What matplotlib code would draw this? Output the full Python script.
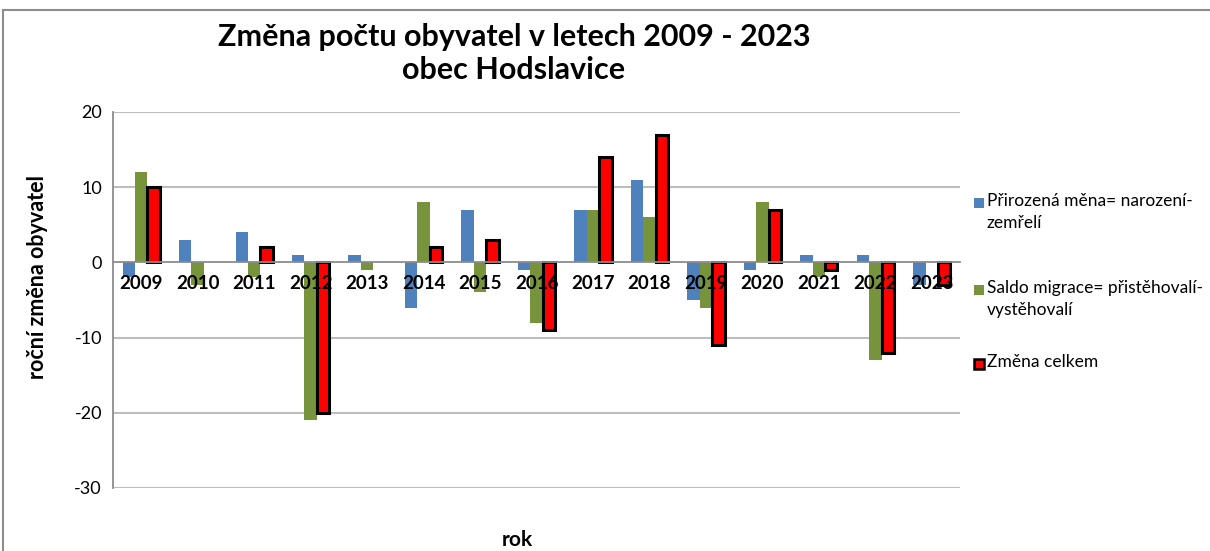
"""
plot.py
---------
population change chart, obec Hodslavice 2009 - 2023
---------
"""

import matplotlib
matplotlib.use('Agg')
import matplotlib.pyplot as plt
from matplotlib.patches import Rectangle
import numpy as np

plt.rcParams['font.family'] = ['Lato', 'DejaVu Sans']

# data
years = ['2009', '2010', '2011', '2012', '2013', '2014', '2015', '2016',
         '2017', '2018', '2019', '2020', '2021', '2022', '2023']
prirozena = [-2, 3, 4, 1, 1, -6, 7, -1, 7, 11, -5, -1, 1, 1, -3]
migrace = [12, -3, -2, -21, -1, 8, -4, -8, 7, 6, -6, 8, -2, -13, 0]
celkem = [10, 0, 2, -20, 0, 2, 3, -9, 14, 17, -11, 7, -1, -12, -3]

labels = ['Přirozená měna= narození-\nzemřelí',
          'Saldo migrace= přistěhovalí-\nvystěhovalí',
          'Změna celkem']
yticks = [20, 10, 0, -10, -20, -30]

blue = '#4F81BD'
green = '#77933C'
red = '#FF0000'
grid_c = '#BDBDBD'

fig = plt.figure(figsize=(12.10, 5.51), dpi=100)
ax = fig.add_axes([113/1210, 1 - 488/551, (960 - 113)/1210, (488 - 112)/551])

# spine position first, it resets the ticks
for s in ['top', 'right']:
    ax.spines[s].set_visible(False)
ax.spines['left'].set_color('#8C8C8C')
ax.spines['left'].set_linewidth(1.3)
ax.spines['bottom'].set_position(('data', 0))
ax.spines['bottom'].set_color('#8C8C8C')
ax.spines['bottom'].set_linewidth(1.3)

x = np.arange(len(years))
w = 0.22
ax.bar(x - 0.22, prirozena, w, color=blue, zorder=1)
ax.bar(x, migrace, w, color=green, zorder=1.1)
ax.bar(x + 0.22, celkem, w, color=red, edgecolor='black',
       linewidth=[2.2 if v != 0 else 0 for v in celkem], zorder=1.2)

# gridlines drawn by hand so the tick labels stay above the bars
for v in yticks:
    if v != 0:
        ax.axhline(v, color=grid_c, linewidth=1.5, zorder=0)

ax.set_xlim(-0.5, len(years) - 0.5)
ax.set_ylim(-30, 20)
ax.set_yticks(yticks)
ax.set_yticklabels([str(v) for v in yticks], fontsize=13)
ax.tick_params(axis='y', length=0, pad=8)

ax.set_xticks(x)
ax.set_xticklabels(years, fontsize=13.5, fontweight='bold')
ax.tick_params(axis='x', length=0, pad=9)

# titles
fig.text(514/1210, 1 - 37/551, 'Změna počtu obyvatel v letech 2009 - 2023',
         ha='center', va='center', fontsize=22, fontweight='bold')
fig.text(514/1210, 1 - 70/551, 'obec Hodslavice',
         ha='center', va='center', fontsize=22, fontweight='bold')
fig.text(38/1210, 1 - 277/551, 'roční změna obyvatel', rotation=90,
         ha='center', va='center', fontsize=15.5, fontweight='bold')
fig.text(517/1210, 1 - 540/551, 'rok', ha='center', va='center',
         fontsize=15, fontweight='bold')

# legend, marker beside the first line of each entry
leg_y = [203, 290, 364]
leg_face = [blue, green, red]
leg_edge = [blue, green, 'black']
for lab, yy, fc, ec in zip(labels, leg_y, leg_face, leg_edge):
    fig.add_artist(Rectangle((974/1210, 1 - (yy + 5)/551), 10/1210, 10/551,
                             transform=fig.transFigure, facecolor=fc,
                             edgecolor=ec, linewidth=1.8 if ec == 'black' else 0))
    fig.text(987/1210, 1 - (yy - 10)/551, lab, ha='left', va='top',
             fontsize=12.5, linespacing=1.45)

# chart border
fig.add_artist(Rectangle((3/1210, -0.05), 1.1, 1 - 10/551 + 0.05,
                         transform=fig.transFigure, fill=False,
                         edgecolor='#8C8C8C', linewidth=1.5))

fig.savefig('out.png', dpi=100)
